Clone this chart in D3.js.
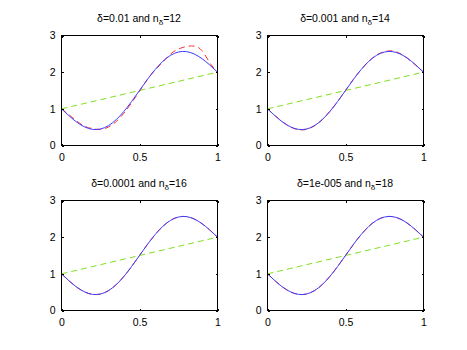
<!DOCTYPE html>
<html><head><meta charset="utf-8">
<script src="https://cdn.jsdelivr.net/npm/d3@7"></script>
<style>
html,body{margin:0;padding:0;background:#fff;}
svg{display:block;font-family:"Liberation Sans",Arial,Helvetica,sans-serif;}
</style></head>
<body>
<svg id="chart" width="467" height="350"></svg>
<script>
// ---- data ----
const xs = [0,0.05,0.1,0.15,0.2,0.25,0.3,0.35,0.4,0.45,0.5,0.55,0.6,0.65,0.7,0.75,0.8,0.85,0.9,0.95,1];
const exact = [1.0,0.803,0.630,0.503,0.439,0.45,0.539,0.703,0.930,1.203,1.5,1.797,2.070,2.297,2.461,2.55,2.561,2.497,2.370,2.197,2.0];
const approx1 = [1.0,0.83,0.66,0.52,0.46,0.44,0.50,0.65,0.88,1.17,1.48,1.80,2.06,2.28,2.50,2.63,2.70,2.71,2.59,2.26,2.0];
const approx2 = [1.0,0.81,0.635,0.50,0.43,0.44,0.535,0.70,0.93,1.20,1.5,1.80,2.07,2.30,2.47,2.56,2.58,2.51,2.37,2.19,2.0];
const approx3 = [1.0,0.803,0.630,0.503,0.439,0.45,0.539,0.703,0.930,1.203,1.5,1.797,2.070,2.297,2.461,2.55,2.561,2.497,2.370,2.197,2.0];
const approx4 = [1.0,0.803,0.630,0.503,0.439,0.45,0.539,0.703,0.930,1.203,1.5,1.797,2.070,2.297,2.461,2.55,2.561,2.497,2.370,2.197,2.0];
const lineX = [0,1];
const lineY = [1,2];
const deltas = ["0.01","0.001","0.0001","1e-005"];
const nDeltas = ["12","14","16","18"];
const xTicks = [0,0.5,1];
const yTicks = [0,1,2,3];
const approxSets = [approx1,approx2,approx3,approx4];

// ---- layout ----
const svg = d3.select("#chart");
const panels = [
  {x:61,y:35},{x:267,y:35},{x:61,y:200},{x:267,y:200}
];
const W = 156, H = 110;

panels.forEach((p,i)=>{
  const g = svg.append("g").attr("transform",`translate(${p.x},${p.y})`);
  const x = d3.scaleLinear().domain([0,1]).range([0.5,W+0.5]);
  const y = d3.scaleLinear().domain([0,3]).range([H+0.5,0.5]);

  // lines
  const line = d3.line().x(d=>x(d[0])).y(d=>y(d[1]));
  const smooth = d3.line().x(d=>x(d[0])).y(d=>y(d[1])).curve(d3.curveNatural);

  g.append("path").datum(lineX.map((v,k)=>[v,lineY[k]]))
    .attr("d",line).attr("fill","none").attr("stroke","#80e020")
    .attr("stroke-width",1).attr("stroke-dasharray","6,4");
  g.append("path").datum(xs.map((v,k)=>[v,approxSets[i][k]]))
    .attr("d",smooth).attr("fill","none").attr("stroke","#ff3030")
    .attr("stroke-width",1).attr("stroke-dasharray","6,4");
  g.append("path").datum(xs.map((v,k)=>[v,exact[k]]))
    .attr("d",smooth).attr("fill","none").attr("stroke","#3c3cff")
    .attr("stroke-width",1);

  // box
  g.append("rect").attr("x",0.5).attr("y",0.5).attr("width",W).attr("height",H)
    .attr("fill","none").attr("stroke","#000").attr("stroke-width",1)
    .attr("shape-rendering","crispEdges");

  // axes (ticks inward, both sides)
  const tl = 2;
  const ax = d3.axisBottom(x).tickValues(xTicks).tickSize(-tl).tickPadding(6+tl).tickFormat(d3.format("~g"));
  const axT = d3.axisTop(x).tickValues(xTicks).tickSize(-tl).tickFormat("");
  const ay = d3.axisLeft(y).tickValues(yTicks).tickSize(-tl).tickPadding(4+tl).tickFormat(d3.format("~g"));
  const ayR = d3.axisRight(y).tickValues(yTicks).tickSize(-tl).tickFormat("");
  const style = s=>{
    s.select(".domain").remove();
    s.selectAll("line").attr("stroke","#000").attr("shape-rendering","crispEdges");
    s.selectAll("text").attr("font-size",10.5).attr("fill","#000")
      .attr("font-family","'Liberation Sans',Arial,sans-serif");
  };
  g.append("g").attr("transform",`translate(0,${H+0.5})`).call(ax).call(style);
  g.append("g").attr("transform",`translate(0,0.5)`).call(axT).call(style);
  g.append("g").attr("transform",`translate(0.5,0)`).call(ay).call(style);
  g.append("g").attr("transform",`translate(${W+0.5},0)`).call(ayR).call(style);

  // title
  const t = g.append("text").attr("x",W/2).attr("y",-13)
    .attr("text-anchor","middle").attr("font-size",10.5).attr("fill","#000");
  t.append("tspan").text(`δ=${deltas[i]} and n`);
  t.append("tspan").attr("font-size",8).attr("dy",3).text("δ");
  t.append("tspan").attr("dy",-3).text(`=${nDeltas[i]}`);
});
</script>
</body></html>
